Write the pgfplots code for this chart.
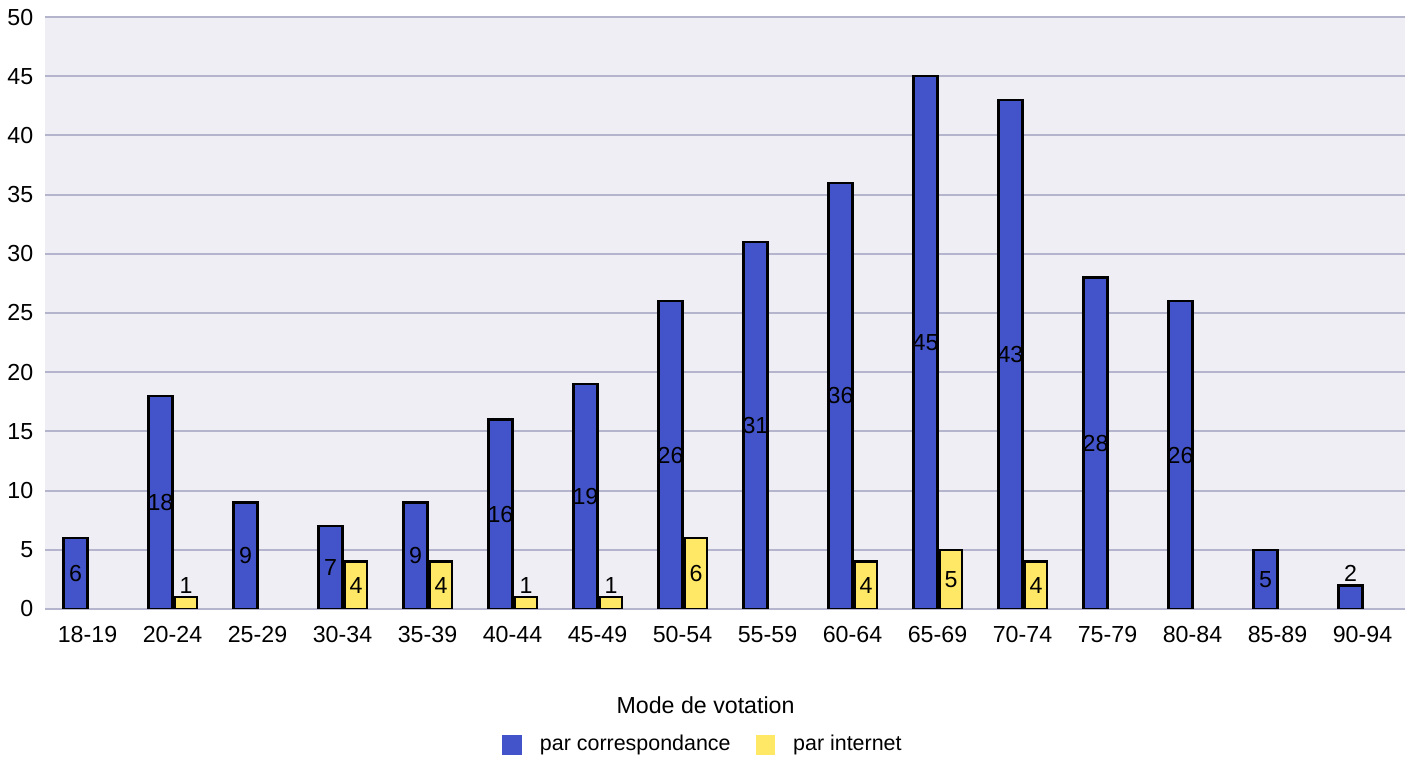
\documentclass[border=0pt]{standalone}
\usepackage{pgfplots}
\pgfplotsset{compat=1.18}
\usepackage{fontspec}
\setmainfont{Liberation Sans}
\definecolor{barblue}{RGB}{67,83,201}
\definecolor{baryellow}{RGB}{255,232,102}
\definecolor{gridc}{RGB}{180,180,205}
\definecolor{bgc}{RGB}{239,238,245}
\newcommand{\fs}{\fontsize{6.6}{7.9}\selectfont}
\newcommand{\fsl}{\fontsize{6.1}{7.3}\selectfont}
\pgfplotsset{
  mylabels/.style={
    visualization depends on=rawy \as \rawy,
    nodes near coords,
    every node near coord/.append style={font=\fs, inner sep=0pt, anchor=center,
      yshift={ifthenelse(\rawy>2, -\rawy*0.592mm, 1.2mm)}},
  },
}
\begin{document}
\begin{tikzpicture}
\useasboundingbox (-4.5mm,-15.3mm) rectangle (136.6mm,60.9mm);
\begin{axis}[
  at={(0,0)}, anchor=south west,
  scale only axis, width=136mm, height=59.2mm,
  ybar=0pt,
  xmin=-0.5, xmax=15.5, ymin=0, ymax=50,
  xtick={0,...,15},
  xticklabels={18-19,20-24,25-29,30-34,35-39,40-44,45-49,50-54,55-59,60-64,65-69,70-74,75-79,80-84,85-89,90-94},
  ytick={0,5,...,50},
  /pgf/number format/assume math mode=true,
  major tick length=0pt,
  axis line style={draw=none},
  ymajorgrids, grid style={gridc, line width=0.6pt},
  axis background/.style={fill=bgc},
  yticklabel style={font=\fs, anchor=east, inner sep=0pt, xshift=-1.1mm},
  xticklabel style={font=\fs, anchor=north, inner sep=0pt, yshift=-1.7mm},
  xlabel={Mode de votation},
  every axis x label/.style={at={(axis description cs:0.4857,0)}, anchor=center, yshift=-9.6mm, font=\fs},
  legend style={at={(axis description cs:0.4857,-0.2297)}, anchor=center, draw=none, fill=none, font=\fsl,
    legend columns=2,
    /tikz/every odd column/.append style={column sep=1.1mm},
    /tikz/every even column/.append style={column sep=1.8mm}},
]
\addplot[bar width=2.4mm, bar shift=-1.2mm, fill=barblue, draw=black, line width=0.7pt, mylabels,
  legend image code/.code={\fill[barblue] (0mm,-0.85mm) rectangle (1.7mm,0.85mm);}]
  coordinates {(0,6) (1,18) (2,9) (3,7) (4,9) (5,16) (6,19) (7,26) (8,31) (9,36) (10,45) (11,43) (12,28) (13,26) (14,5) (15,2)};
\addlegendentry{par correspondance}
\addplot[bar width=2.2mm, bar shift=1.35mm, fill=baryellow, draw=black, line width=0.7pt, mylabels,
  legend image code/.code={\fill[baryellow] (0mm,-0.85mm) rectangle (1.7mm,0.85mm);}]
  coordinates {(1,1) (3,4) (4,4) (5,1) (6,1) (7,6) (9,4) (10,5) (11,4)};
\addlegendentry{par internet}
\end{axis}
\end{tikzpicture}
\end{document}
